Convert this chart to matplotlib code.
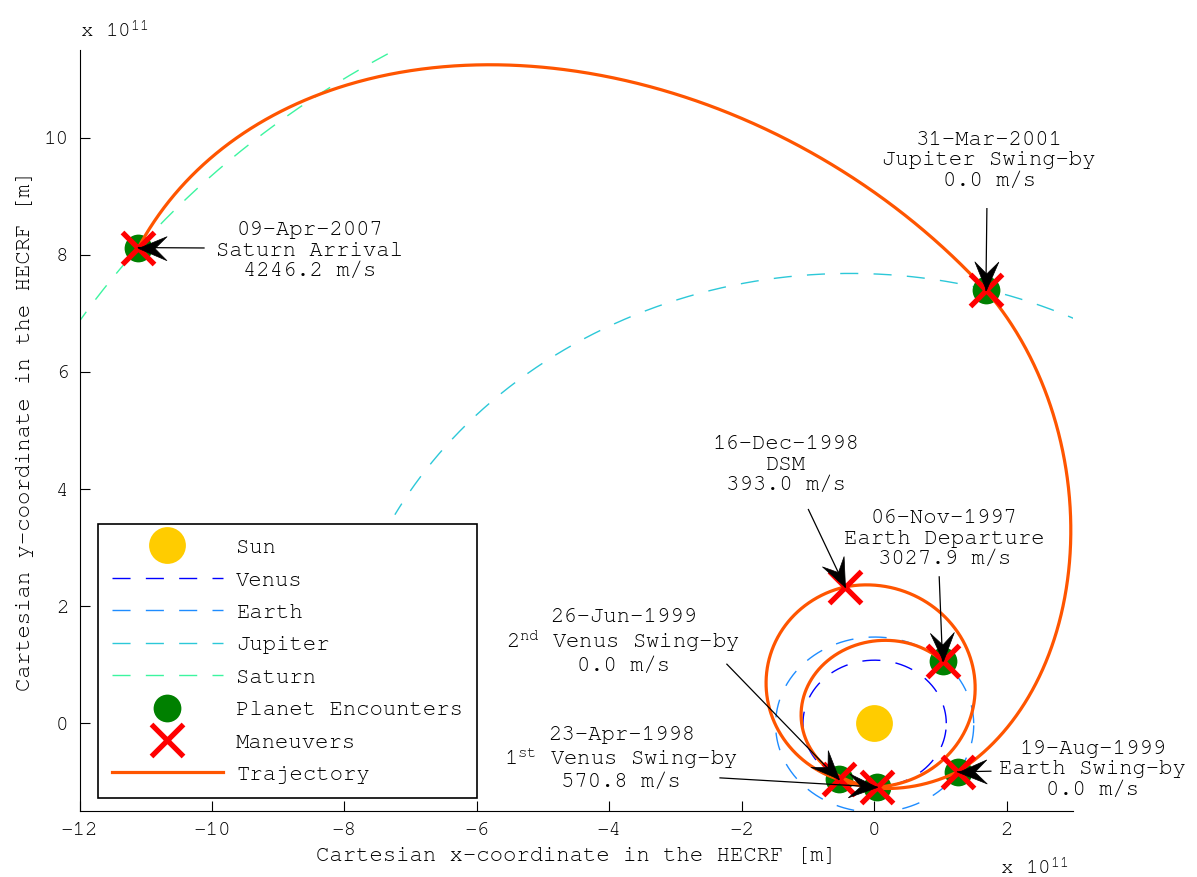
import numpy as np
import matplotlib
matplotlib.use("Agg")
import matplotlib.pyplot as plt
from matplotlib import font_manager
from matplotlib.path import Path
from matplotlib.markers import MarkerStyle
from matplotlib.transforms import Affine2D
from matplotlib.lines import Line2D

_installed = {f.name for f in font_manager.fontManager.ttflist}
MONO = next((f for f in ["Courier New", "Nimbus Mono PS", "FreeMono", "Liberation Mono"]
             if f in _installed), "DejaVu Sans Mono")

plt.rcParams['font.family'] = [MONO, 'DejaVu Sans']
plt.rcParams['mathtext.fontset'] = 'custom'
plt.rcParams['mathtext.rm'] = MONO
plt.rcParams['mathtext.it'] = MONO
plt.rcParams['mathtext.bf'] = MONO + ':bold'
plt.rcParams['mathtext.default'] = 'regular'
plt.rcParams['axes.unicode_minus'] = False

# ---------------------------------------------------------------- data
# All positions in the HECRF, units of 1e11 m.

# Planetary orbits: semi-major axis, eccentricity, longitude of perihelion [deg]
# and the arc of true longitude that is drawn [deg]
orbit_names = ["Venus", "Earth", "Jupiter", "Saturn"]
orbit_a = [1.082, 1.496, 7.786, 14.267]
orbit_e = [0.0068, 0.0167, 0.0489, 0.0541]
orbit_peri = [131.5, 102.9, 14.3, 92.4]
orbit_from = [0.0, 0.0, 40.0, 110.0]
orbit_to = [360.0, 360.0, 153.8, 160.0]
orbit_colors = ["#0000FF", "#1E8CFF", "#2CC8D8", "#3CF5A0"]

# Mission events (chronological)
event_dates = ["06-Nov-1997", "23-Apr-1998", "16-Dec-1998", "26-Jun-1999",
               "19-Aug-1999", "31-Mar-2001", "09-Apr-2007"]
event_names = ["Earth Departure", "1$^{st}$ Venus Swing-by", "DSM",
               "2$^{nd}$ Venus Swing-by", "Earth Swing-by",
               "Jupiter Swing-by", "Saturn Arrival"]
event_dv = [3027.9, 570.8, 393.0, 0.0, 0.0, 0.0, 4246.2]
event_x = [1.03, 0.04, -0.44, -0.54, 1.257, 1.685, -11.11]
event_y = [1.064, -1.09, 2.328, -0.96, -0.831, 7.395, 8.125]
event_is_encounter = [True, True, False, True, True, True, True]

# Intermediate positions along each transfer leg (event i -> event i+1)
leg_via_x = [[0.176, -1.097, -0.93],
             [1.523, -0.125],
             [-1.634],
             [0.176],
             [2.965],
             [1.131, -0.377, -5.81, -9.68]]
leg_via_y = [[1.406, 0.166, -0.52],
             [0.62, 2.357],
             [0.678],
             [-1.115],
             [3.125],
             [7.908, 9.389, 11.27, 9.957]]

# Annotation text centres and arrow tails
label_x = [1.057, -3.82, -1.33, -3.79, 3.30, 1.735, -8.52]
label_y = [3.15, -0.606, 4.415, 1.40, -0.79, 9.616, 8.07]
tail_x = [0.98, -2.33, -0.995, -2.226, 1.76, 1.70, -10.12]
tail_y = [2.50, -0.934, 3.65, 1.008, -0.82, 8.79, 8.118]

# ---------------------------------------------------------------- styles
SUN_COLOR = "#FFCC00"
ENC_COLOR = "#008000"
MAN_COLOR = "#FF0000"
TRAJ_COLOR = "#FF5500"
DASH = (0, (13, 11))
FS = 16


def kepler_orbit(a, e, peri_deg, th_from, th_to, n=720):
    th = np.radians(np.linspace(th_from, th_to, n))
    p = a * (1 - e ** 2)
    r = p / (1 + e * np.cos(th - np.radians(peri_deg)))
    return r * np.cos(th), r * np.sin(th)


def fit_conic(xs, ys, w):
    """Sun-focused conic 1/r = A + B cos(th) + C sin(th) through the points."""
    xs, ys, w = map(np.asarray, (xs, ys, w))
    r = np.hypot(xs, ys)
    th = np.arctan2(ys, xs)
    M = np.column_stack([np.ones_like(th), np.cos(th), np.sin(th)]) * w[:, None]
    coef, *_ = np.linalg.lstsq(M, w / r, rcond=None)
    return coef


def conic_arc(coef, x0, y0, x1, y1, n=600):
    t0 = np.arctan2(y0, x0)
    t1 = np.arctan2(y1, x1)
    while t1 <= t0:
        t1 += 2 * np.pi
    th = np.linspace(t0, t1, n)
    r = 1.0 / (coef[0] + coef[1] * np.cos(th) + coef[2] * np.sin(th))
    return r * np.cos(th), r * np.sin(th)


fig = plt.figure(figsize=(11.97, 8.77), dpi=100)
ax = fig.add_axes([79.5 / 1197, 66 / 877, 993.5 / 1197, 761 / 877])
ax.set_xlim(-12, 3)
ax.set_ylim(-1.5, 11.5)

# planetary orbits
for a, e, w, t0, t1, c in zip(orbit_a, orbit_e, orbit_peri, orbit_from,
                              orbit_to, orbit_colors):
    ox, oy = kepler_orbit(a, e, w, t0, t1)
    ax.plot(ox, oy, color=c, lw=1.0, linestyle=DASH, zorder=2)

# Sun
ax.plot([0], [0], 'o', ms=26.5, mfc=SUN_COLOR, mec='none', zorder=3)

# planet encounters
enc_x = [x for x, f in zip(event_x, event_is_encounter) if f]
enc_y = [y for y, f in zip(event_y, event_is_encounter) if f]
ax.plot(enc_x, enc_y, 'o', ms=20, mfc=ENC_COLOR, mec='none', zorder=4)

# trajectory legs
for i in range(len(event_x) - 1):
    xs = [event_x[i]] + leg_via_x[i] + [event_x[i + 1]]
    ys = [event_y[i]] + leg_via_y[i] + [event_y[i + 1]]
    wts = [30.0] + [1.0] * len(leg_via_x[i]) + [30.0]
    coef = fit_conic(xs, ys, wts)
    tx, ty = conic_arc(coef, event_x[i], event_y[i], event_x[i + 1], event_y[i + 1])
    ax.plot(tx, ty, color=TRAJ_COLOR, lw=2.3, solid_capstyle='round', zorder=5)

# maneuvers
ax.plot(event_x, event_y, 'x', ms=23, mew=3.8, color=MAN_COLOR, zorder=6)

# annotations with concave arrow heads
head_path = Path([(0, 0), (-1, 0.42), (-0.58, 0), (-1, -0.42), (0, 0)],
                 [Path.MOVETO, Path.LINETO, Path.LINETO, Path.LINETO, Path.CLOSEPOLY])
for i in range(len(event_x)):
    txt = f"{event_dates[i]}\n{event_names[i]}\n{event_dv[i]:.1f} m/s"
    ax.text(label_x[i], label_y[i], txt, ha='center', va='center',
            multialignment='center', fontsize=FS, linespacing=1.17, zorder=8)
    ax.plot([tail_x[i], event_x[i]], [tail_y[i], event_y[i]], color='k',
            lw=0.9, zorder=7, clip_on=False)
    p0 = ax.transData.transform((tail_x[i], tail_y[i]))
    p1 = ax.transData.transform((event_x[i], event_y[i]))
    ang = np.degrees(np.arctan2(p1[1] - p0[1], p1[0] - p0[0]))
    mk = MarkerStyle(head_path, transform=Affine2D().rotate_deg(ang))
    ax.plot([event_x[i]], [event_y[i]], marker=mk, ms=41, mfc='k', mec='k',
            mew=0.5, ls='none', zorder=7, clip_on=False)

# axes styling
ax.spines['top'].set_visible(False)
ax.spines['right'].set_visible(False)
for s in ('left', 'bottom'):
    ax.spines[s].set_linewidth(0.8)
ax.set_xticks(np.arange(-12, 3, 2))
ax.set_yticks(np.arange(0, 11, 2))
ax.tick_params(direction='in', length=7, width=0.8, labelsize=15, pad=8,
               top=False, right=False)
ax.set_xlabel('Cartesian x-coordinate in the HECRF [m]', fontsize=FS, labelpad=5)
ax.set_ylabel('Cartesian y-coordinate in the HECRF [m]', fontsize=FS, labelpad=7)

fig.text(80 / 1197, 1 - 37 / 877, 'x 10$^{11}$', fontsize=15, ha='left', va='baseline')
fig.text(1000 / 1197, 3 / 877, 'x 10$^{11}$', fontsize=15, ha='left', va='baseline')

# legend
handles = [
    Line2D([], [], ls='none', marker='o', ms=26.5, mfc=SUN_COLOR, mec='none'),
    Line2D([], [], color=orbit_colors[0], lw=1.0, linestyle=DASH),
    Line2D([], [], color=orbit_colors[1], lw=1.0, linestyle=DASH),
    Line2D([], [], color=orbit_colors[2], lw=1.0, linestyle=DASH),
    Line2D([], [], color=orbit_colors[3], lw=1.0, linestyle=DASH),
    Line2D([], [], ls='none', marker='o', ms=20, mfc=ENC_COLOR, mec='none'),
    Line2D([], [], ls='none', marker='x', ms=23, mew=3.8, color=MAN_COLOR),
    Line2D([], [], color=TRAJ_COLOR, lw=2.3),
]
labels = ["Sun"] + orbit_names + ["Planet Encounters", "Maneuvers", "Trajectory"]
leg = ax.legend(handles, labels, loc='lower left', bbox_to_anchor=(0.0186, 0.0171),
                borderaxespad=0, fontsize=FS, handlelength=5.0, handletextpad=0.6,
                labelspacing=0.58, borderpad=0.62, numpoints=1, fancybox=False,
                framealpha=1, edgecolor='k')
leg.get_frame().set_linewidth(1.2)
leg.set_zorder(10)

fig.savefig('out.png', dpi=100)
